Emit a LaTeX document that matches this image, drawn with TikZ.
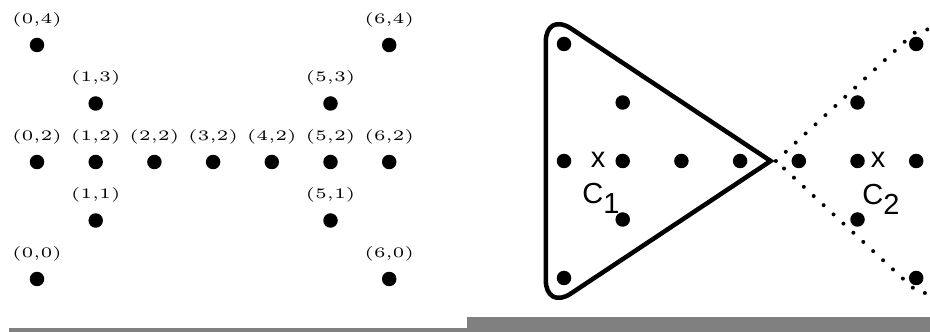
\documentclass[tikz,border=0pt]{standalone}
\usepackage{fontspec}
\usepackage{graphicx}
\newfontfamily\helv{Liberation Sans}
\usetikzlibrary{positioning}

\begin{document}
\begin{tikzpicture}[x=58.7pt, y=58.5pt,
    dot/.style={circle, fill=black, inner sep=0pt, minimum size=14.5pt},
    coordlbl/.style={inner sep=0pt, font=\fontsize{5}{6}\selectfont},
    hull/.style={line width=4.5pt},
    dothull/.style={line width=4pt, line cap=round, dash pattern=on 0pt off 13.5pt},
    ctrmark/.style={inner sep=0pt, font=\helv\fontsize{29}{29}\selectfont},
    clbl/.style={inner sep=0pt, anchor=base west, font=\helv\fontsize{29}{29}\selectfont},
    bar/.style={fill=gray}
]
\useasboundingbox (-37pt,-53pt) rectangle (893pt,279pt);

% left: the points with their coordinates
\foreach \i/\j in {0/4,6/4,1/3,5/3,0/2,1/2,2/2,3/2,4/2,5/2,6/2,1/1,5/1,0/0,6/0} {
  \node[dot] (p\i\j) at (\i,\j) {};
  \node[coordlbl] (l\i\j) at ([yshift=25.5pt]p\i\j) {\scalebox{3.5}[2.9]{(\i,\j)}};
}

% right: the same points, two clusters
\begin{scope}[xshift=527pt, yshift=1pt]
\foreach \i/\j in {0/4,6/4,1/3,5/3,0/2,1/2,2/2,3/2,4/2,5/2,6/2,1/1,5/1,0/0,6/0}
  \node[dot] (q\i\j) at (\i,\j) {};
\draw[hull] (3.52,2) [rounded corners=30pt] -- (-0.31,4.55) -- (-0.31,-0.55) [sharp corners] -- cycle;
\draw[dothull] (3.61,2) [rounded corners=30pt] -- (6.30,4.50) -- (6.30,-0.50) [sharp corners] -- cycle;
\node[ctrmark] (x1) at (0.58,2.02) {x};
\node[clbl] (c1) at (0.31,1.28) {C\raisebox{-10pt}{1}};
\node[ctrmark] (x2) at (5.35,2.02) {x};
\node[clbl] (c2) at (5.08,1.25) {C\raisebox{-10pt}{2}};
\end{scope}

% bars along the bottom
\fill[bar] (-28pt,-49pt) rectangle (430pt,-53pt);
\fill[bar] (430pt,-38pt) rectangle (893pt,-53pt);
\end{tikzpicture}
\end{document}
